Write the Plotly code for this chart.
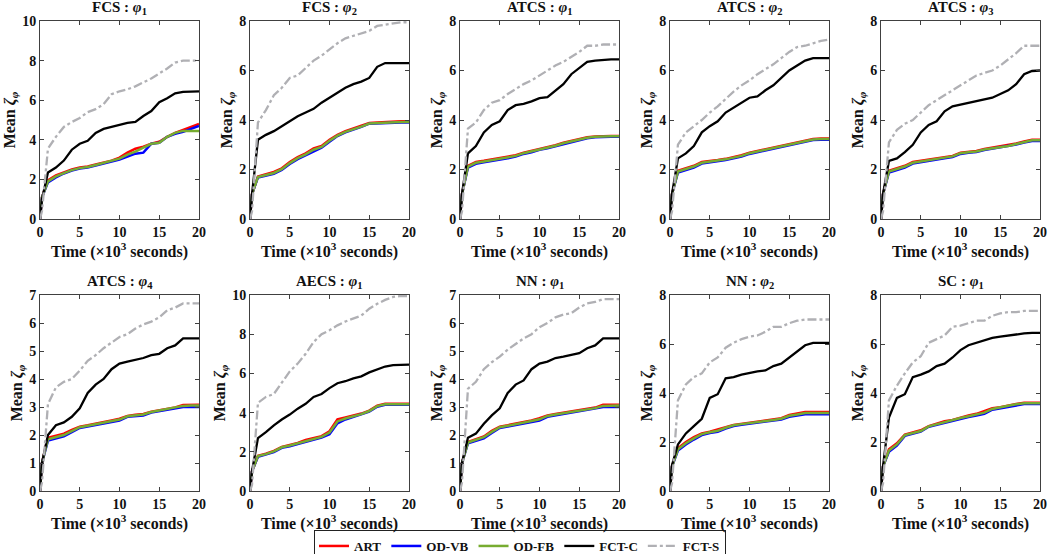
import plotly.graph_objects as go

time = [0, 0.25] + list(range(1, 21))

titles = ["FCS : <i>φ</i><sub>1</sub>", "FCS : <i>φ</i><sub>2</sub>", "ATCS : <i>φ</i><sub>1</sub>", "ATCS : <i>φ</i><sub>2</sub>",
          "ATCS : <i>φ</i><sub>3</sub>", "ATCS : <i>φ</i><sub>4</sub>", "AECS : <i>φ</i><sub>1</sub>", "NN : <i>φ</i><sub>1</sub>",
          "NN : <i>φ</i><sub>2</sub>", "SC : <i>φ</i><sub>1</sub>"]
ymax = [10, 8, 8, 8, 8, 7, 10, 7, 8, 8]

# ---- data per panel ----
art = [
    [0, 1.1, 1.95, 2.2, 2.35, 2.5, 2.6, 2.65, 2.75, 2.85, 2.95, 3.1, 3.35, 3.55, 3.65, 3.8, 3.9, 4.15, 4.35, 4.5, 4.65, 4.8],
    [0, 1.0, 1.72, 1.8, 1.9, 2.05, 2.3, 2.5, 2.65, 2.85, 2.95, 3.2, 3.4, 3.55, 3.65, 3.75, 3.88, 3.9, 3.92, 3.93, 3.95, 3.95],
    [0, 1.0, 2.15, 2.3, 2.35, 2.4, 2.45, 2.5, 2.58, 2.68, 2.75, 2.85, 2.9, 2.98, 3.08, 3.15, 3.25, 3.3, 3.33, 3.35, 3.35, 3.35],
    [0, 1.0, 1.95, 2.05, 2.15, 2.3, 2.33, 2.38, 2.43, 2.5, 2.58, 2.68, 2.75, 2.83, 2.88, 2.95, 3.03, 3.1, 3.17, 3.23, 3.25, 3.25],
    [0, 1.0, 1.95, 2.05, 2.15, 2.3, 2.35, 2.4, 2.45, 2.5, 2.55, 2.68, 2.72, 2.75, 2.83, 2.88, 2.92, 2.97, 3.05, 3.13, 3.2, 3.2],
    [0, 1.0, 1.9, 1.97, 2.05, 2.18, 2.3, 2.35, 2.4, 2.47, 2.52, 2.58, 2.68, 2.72, 2.75, 2.83, 2.88, 2.93, 2.98, 3.07, 3.08, 3.08],
    [0, 1.0, 1.8, 1.9, 2.05, 2.25, 2.35, 2.45, 2.6, 2.7, 2.8, 3.05, 3.65, 3.75, 3.85, 3.95, 4.1, 4.35, 4.45, 4.45, 4.45, 4.45],
    [0, 1.0, 1.75, 1.85, 1.95, 2.15, 2.3, 2.35, 2.4, 2.47, 2.52, 2.6, 2.7, 2.75, 2.8, 2.85, 2.9, 2.93, 2.98, 3.08, 3.08, 3.08],
    [0, 1.0, 1.75, 2.0, 2.2, 2.35, 2.42, 2.5, 2.6, 2.7, 2.75, 2.8, 2.85, 2.88, 2.92, 2.97, 3.1, 3.15, 3.22, 3.22, 3.22, 3.22],
    [0, 1.0, 1.7, 1.95, 2.3, 2.4, 2.48, 2.65, 2.75, 2.85, 2.9, 3.0, 3.08, 3.15, 3.25, 3.38, 3.42, 3.5, 3.55, 3.6, 3.6, 3.6],
]
od_vb = [
    [0, 1.1, 1.85, 2.1, 2.3, 2.45, 2.55, 2.6, 2.7, 2.8, 2.9, 3.0, 3.15, 3.3, 3.35, 3.8, 3.85, 4.15, 4.3, 4.4, 4.55, 4.7],
    [0, 1.0, 1.68, 1.75, 1.83, 1.98, 2.22, 2.42, 2.58, 2.75, 2.88, 3.12, 3.35, 3.5, 3.6, 3.72, 3.85, 3.87, 3.88, 3.89, 3.9, 3.9],
    [0, 1.0, 2.08, 2.23, 2.29, 2.34, 2.39, 2.45, 2.52, 2.63, 2.7, 2.8, 2.86, 2.94, 3.03, 3.1, 3.2, 3.26, 3.3, 3.32, 3.32, 3.32],
    [0, 1.0, 1.88, 1.98, 2.08, 2.24, 2.28, 2.33, 2.38, 2.45, 2.52, 2.63, 2.7, 2.78, 2.84, 2.9, 2.98, 3.05, 3.12, 3.19, 3.2, 3.2],
    [0, 1.0, 1.88, 1.98, 2.08, 2.24, 2.3, 2.35, 2.4, 2.45, 2.5, 2.63, 2.68, 2.71, 2.79, 2.84, 2.88, 2.93, 3.01, 3.09, 3.15, 3.15],
    [0, 1.0, 1.8, 1.87, 1.95, 2.1, 2.25, 2.3, 2.35, 2.42, 2.47, 2.52, 2.65, 2.68, 2.7, 2.8, 2.85, 2.9, 2.95, 3.0, 3.0, 3.0],
    [0, 1.0, 1.75, 1.85, 1.98, 2.2, 2.28, 2.4, 2.52, 2.62, 2.72, 2.9, 3.45, 3.65, 3.78, 3.88, 4.05, 4.3, 4.4, 4.4, 4.4, 4.4],
    [0, 1.0, 1.7, 1.78, 1.88, 2.07, 2.25, 2.3, 2.35, 2.42, 2.47, 2.52, 2.65, 2.7, 2.75, 2.8, 2.85, 2.88, 2.93, 3.0, 3.0, 3.0],
    [0, 1.0, 1.65, 1.9, 2.1, 2.28, 2.37, 2.42, 2.55, 2.65, 2.7, 2.75, 2.8, 2.83, 2.88, 2.92, 3.03, 3.08, 3.13, 3.13, 3.13, 3.13],
    [0, 1.0, 1.6, 1.85, 2.25, 2.35, 2.42, 2.62, 2.7, 2.8, 2.88, 2.95, 3.02, 3.08, 3.15, 3.32, 3.38, 3.45, 3.52, 3.55, 3.55, 3.55],
]
od_fb = [
    [0, 1.1, 1.9, 2.15, 2.32, 2.47, 2.57, 2.63, 2.73, 2.83, 2.93, 3.05, 3.25, 3.4, 3.6, 3.8, 3.85, 4.15, 4.35, 4.45, 4.45, 4.45],
    [0, 1.0, 1.7, 1.77, 1.86, 2.01, 2.26, 2.46, 2.61, 2.8, 2.91, 3.16, 3.37, 3.52, 3.62, 3.73, 3.86, 3.88, 3.9, 3.91, 3.92, 3.92],
    [0, 1.0, 2.12, 2.27, 2.32, 2.37, 2.42, 2.48, 2.55, 2.66, 2.73, 2.83, 2.88, 2.96, 3.06, 3.13, 3.23, 3.28, 3.32, 3.34, 3.34, 3.34],
    [0, 1.0, 1.92, 2.02, 2.12, 2.27, 2.31, 2.36, 2.41, 2.48, 2.55, 2.66, 2.73, 2.81, 2.86, 2.93, 3.01, 3.08, 3.15, 3.21, 3.23, 3.23],
    [0, 1.0, 1.92, 2.02, 2.12, 2.27, 2.33, 2.38, 2.43, 2.48, 2.53, 2.66, 2.7, 2.73, 2.81, 2.86, 2.9, 2.95, 3.03, 3.11, 3.18, 3.18],
    [0, 1.0, 1.85, 1.92, 2.0, 2.14, 2.28, 2.33, 2.38, 2.45, 2.5, 2.55, 2.67, 2.7, 2.73, 2.82, 2.87, 2.92, 2.97, 3.04, 3.05, 3.05],
    [0, 1.0, 1.78, 1.88, 2.02, 2.23, 2.32, 2.43, 2.56, 2.66, 2.76, 2.98, 3.55, 3.7, 3.82, 3.92, 4.08, 4.33, 4.42, 4.42, 4.42, 4.42],
    [0, 1.0, 1.73, 1.82, 1.92, 2.11, 2.28, 2.33, 2.38, 2.45, 2.5, 2.56, 2.68, 2.73, 2.78, 2.83, 2.88, 2.91, 2.96, 3.04, 3.05, 3.05],
    [0, 1.0, 1.7, 1.95, 2.15, 2.32, 2.4, 2.46, 2.58, 2.68, 2.73, 2.78, 2.83, 2.86, 2.9, 2.95, 3.07, 3.12, 3.18, 3.18, 3.18, 3.18],
    [0, 1.0, 1.65, 1.9, 2.28, 2.38, 2.45, 2.64, 2.73, 2.83, 2.89, 2.98, 3.05, 3.12, 3.2, 3.35, 3.4, 3.48, 3.54, 3.58, 3.58, 3.58],
]
fct_c = [
    [0, 1.0, 2.35, 2.6, 2.95, 3.5, 3.8, 3.95, 4.35, 4.55, 4.65, 4.75, 4.85, 4.9, 5.2, 5.45, 5.9, 6.1, 6.35, 6.42, 6.45, 6.45],
    [0, 1.0, 3.2, 3.4, 3.55, 3.75, 3.95, 4.15, 4.3, 4.45, 4.7, 4.9, 5.1, 5.3, 5.45, 5.55, 5.7, 6.15, 6.3, 6.3, 6.3, 6.3],
    [0, 1.0, 2.65, 2.95, 3.5, 3.8, 3.95, 4.4, 4.6, 4.65, 4.75, 4.88, 4.92, 5.2, 5.45, 5.85, 6.1, 6.35, 6.4, 6.43, 6.45, 6.45],
    [0, 1.0, 2.45, 2.65, 2.95, 3.5, 3.75, 3.95, 4.3, 4.5, 4.7, 4.9, 4.95, 5.2, 5.4, 5.7, 6.0, 6.2, 6.4, 6.5, 6.5, 6.5],
    [0, 1.0, 2.35, 2.45, 2.7, 3.0, 3.5, 3.8, 3.95, 4.35, 4.55, 4.62, 4.68, 4.75, 4.85, 4.9, 5.05, 5.2, 5.45, 5.85, 5.98, 6.0],
    [0, 1.0, 2.0, 2.35, 2.45, 2.65, 2.95, 3.5, 3.8, 4.0, 4.35, 4.55, 4.62, 4.68, 4.75, 4.85, 4.9, 5.1, 5.2, 5.45, 5.45, 5.45],
    [0, 1.0, 2.7, 3.0, 3.35, 3.65, 3.9, 4.2, 4.45, 4.8, 4.95, 5.25, 5.5, 5.6, 5.75, 5.85, 6.05, 6.2, 6.35, 6.42, 6.45, 6.45],
    [0, 1.0, 1.9, 2.05, 2.4, 2.7, 2.95, 3.5, 3.8, 3.95, 4.35, 4.55, 4.62, 4.75, 4.8, 4.85, 4.92, 5.1, 5.2, 5.45, 5.45, 5.45],
    [0, 1.05, 1.9, 2.35, 2.65, 2.95, 3.8, 3.95, 4.6, 4.65, 4.75, 4.82, 4.88, 4.92, 5.1, 5.2, 5.45, 5.7, 5.95, 6.05, 6.05, 6.05],
    [0, 1.0, 3.0, 3.8, 3.95, 4.65, 4.75, 4.88, 5.1, 5.2, 5.45, 5.75, 5.95, 6.05, 6.15, 6.25, 6.3, 6.35, 6.4, 6.43, 6.45, 6.45],
]
fct_s = [
    [0, 0.4, 3.55, 4.15, 4.65, 4.9, 5.1, 5.4, 5.55, 5.8, 6.3, 6.45, 6.55, 6.7, 6.9, 7.1, 7.35, 7.6, 7.9, 8.0, 8.0, 8.0],
    [0, 0.3, 3.9, 4.4, 5.0, 5.3, 5.7, 5.8, 6.1, 6.4, 6.6, 6.85, 7.1, 7.3, 7.4, 7.5, 7.6, 7.8, 7.85, 7.9, 7.95, 7.95],
    [0, 0.3, 3.65, 3.9, 4.4, 4.7, 4.8, 5.05, 5.25, 5.45, 5.6, 5.8, 6.0, 6.2, 6.35, 6.55, 6.75, 7.0, 7.0, 7.05, 7.05, 7.05],
    [0, 0.3, 3.0, 3.5, 3.75, 4.0, 4.3, 4.55, 4.85, 5.15, 5.4, 5.6, 5.85, 6.05, 6.25, 6.5, 6.75, 6.95, 7.0, 7.1, 7.2, 7.25],
    [0, 0.3, 3.1, 3.6, 3.85, 4.0, 4.3, 4.6, 4.8, 5.0, 5.2, 5.4, 5.6, 5.8, 5.9, 6.0, 6.2, 6.45, 6.7, 7.0, 7.0, 7.0],
    [0, 0.3, 3.1, 3.7, 3.9, 4.0, 4.3, 4.65, 4.85, 5.1, 5.3, 5.5, 5.6, 5.8, 5.95, 6.05, 6.2, 6.45, 6.55, 6.7, 6.7, 6.7],
    [0, 0.3, 4.5, 4.8, 4.95, 5.5, 6.1, 6.5, 7.0, 7.6, 8.0, 8.2, 8.45, 8.65, 8.8, 8.95, 9.3, 9.55, 9.75, 9.9, 9.95, 9.95],
    [0, 0.3, 3.65, 3.9, 4.35, 4.6, 4.8, 5.05, 5.25, 5.45, 5.6, 5.85, 6.0, 6.2, 6.3, 6.35, 6.55, 6.7, 6.75, 6.85, 6.85, 6.85],
    [0, 0.3, 3.7, 4.35, 4.65, 4.8, 5.25, 5.45, 5.85, 6.05, 6.2, 6.3, 6.35, 6.5, 6.7, 6.7, 6.85, 6.95, 7.0, 7.0, 7.0, 7.0],
    [0, 0.3, 3.7, 4.3, 4.8, 5.25, 5.5, 6.05, 6.2, 6.35, 6.7, 6.75, 6.85, 6.95, 6.95, 7.15, 7.25, 7.3, 7.3, 7.35, 7.35, 7.35],
]

series_names = ["ART", "OD-VB", "OD-FB", "FCT-C", "FCT-S"]
series_data = [art, od_vb, od_fb, fct_c, fct_s]
colors = ["#ff0000", "#0000ff", "#77ac30", "#000000", "#b0b0b4"]
widths = [2.5, 2.5, 2.5, 2.3, 2.3]
dashes = ["solid", "solid", "solid", "solid", "dashdot"]

W, H = 1054, 554
lefts = [40, 250, 460, 670, 881]
pw = 159
rows = [(21, 219), (295, 491)]

FONT = "Liberation Serif"
AX = "#404040"
TXT = "#111111"

fig = go.Figure()
layout = dict(width=W, height=H, margin=dict(l=0, r=0, t=0, b=0, autoexpand=False),
              paper_bgcolor="white", plot_bgcolor="white",
              font=dict(family=FONT, color=TXT))
annotations = []
for p in range(10):
    r, c = divmod(p, 5)
    idx = p + 1
    xa = "x" if idx == 1 else f"x{idx}"
    ya = "y" if idx == 1 else f"y{idx}"
    x0 = lefts[c] / W
    x1 = (lefts[c] + pw) / W
    top, bot = rows[r]
    y0 = 1 - bot / H
    y1 = 1 - top / H
    for s in range(5):
        fig.add_trace(go.Scatter(
            x=time, y=series_data[s][p], mode="lines", name="<b>" + series_names[s] + "</b>",
            line=dict(color=colors[s], width=widths[s], dash=dashes[s]),
            xaxis=xa, yaxis=ya, showlegend=(p == 0), legendgroup=series_names[s]))
    xkey = "xaxis" if idx == 1 else f"xaxis{idx}"
    ykey = "yaxis" if idx == 1 else f"yaxis{idx}"
    layout[xkey] = dict(domain=[x0, x1], anchor=ya, range=[0, 20], tickvals=[0, 5, 10, 15, 20],
                        automargin=False,
                        showline=True, linecolor=AX, linewidth=1, mirror="ticks",
                        ticks="inside", ticklen=4, tickcolor=AX, showgrid=False, zeroline=False,
                        tickfont=dict(family=FONT, size=14, color=TXT, weight="bold"),
                        title=dict(text="<b>Time (×10<sup>3</sup> seconds)</b>",
                                   font=dict(family=FONT, size=16, color=TXT), standoff=0))
    layout[ykey] = dict(domain=[y0, y1], anchor=xa, range=[0, ymax[p]],
                        dtick=(1 if ymax[p] == 7 else 2), automargin=False,
                        showline=True, linecolor=AX, linewidth=1, mirror="ticks",
                        ticks="inside", ticklen=4, tickcolor=AX, showgrid=False, zeroline=False,
                        tickfont=dict(family=FONT, size=14, color=TXT, weight="bold"),
                        title=dict(text="<b>Mean <i>ζ</i><sub><i>φ</i></sub></b>",
                                   font=dict(family=FONT, size=16, color=TXT), standoff=2))
    annotations.append(dict(text="<b>" + titles[p] + "</b>", x=(x0 + x1) / 2, y=y1 + 2 / H,
                            xref="paper", yref="paper", xanchor="center", yanchor="bottom",
                            showarrow=False, font=dict(family=FONT, size=15, color=TXT)))

layout["annotations"] = annotations
layout["showlegend"] = True
layout["legend"] = dict(orientation="h", x=520 / W, y=1 - 530 / H, xanchor="center", yanchor="top",
                        bordercolor="#222222", borderwidth=1, bgcolor="white",
                        font=dict(family=FONT, size=13, color=TXT),
                        itemwidth=30, tracegroupgap=0)
fig.update_layout(**layout)
fig.write_html("out.html", config={"displayModeBar": False},
               post_script="document.body.style.margin='0';document.body.style.overflow='hidden';")
